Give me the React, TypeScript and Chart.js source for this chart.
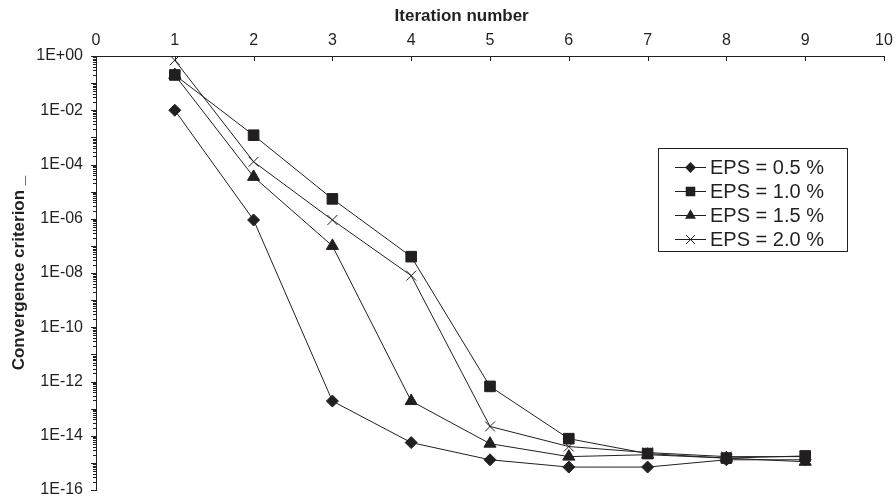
import React, { useEffect, useRef } from 'react';
import { Chart, registerables } from 'chart.js';

Chart.register(...registerables);

// ---- data ----
const iterations = [1, 2, 3, 4, 5, 6, 7, 8, 9];
const eps05 = [1e-2, 9e-7, 1.9e-13, 5.6e-15, 1.3e-15, 7e-16, 7e-16, 1.3e-15, 1.3e-15];
const eps10 = [0.2, 1.2e-3, 5.4e-6, 4e-8, 6.6e-13, 7.8e-15, 2.2e-15, 1.5e-15, 1.8e-15];
const eps15 = [0.2, 3.5e-5, 1e-7, 1.9e-13, 5.1e-15, 1.7e-15, 2e-15, 1.5e-15, 1.1e-15];
const eps20 = [0.7, 1.26e-4, 9e-7, 8e-9, 2.2e-14, 4e-15, 2.4e-15, 1.7e-15, 1.7e-15];
const seriesLabels = ['EPS = 0.5 %', 'EPS = 1.0 %', 'EPS = 1.5 %', 'EPS = 2.0 %'];
const xTickValues = [0, 1, 2, 3, 4, 5, 6, 7, 8, 9, 10];
const yLabelExponents = [0, -2, -4, -6, -8, -10, -12, -14, -16];
const xTitle = 'Iteration number';
const yTitle = 'Convergence criterion _';

const INK = '#231f20';
const FONT = "'Liberation Sans', Arial, sans-serif";

const styles = [
  { pointStyle: 'rectRot', radius: 6 },
  { pointStyle: 'rect', radius: 7.5 },
  { pointStyle: 'triangle', radius: 7 },
  { pointStyle: 'crossRot', radius: 7 },
];

function drawMarker(ctx: CanvasRenderingContext2D, style: string, x: number, y: number, r: number) {
  ctx.beginPath();
  if (style === 'rectRot') {
    ctx.moveTo(x, y - r); ctx.lineTo(x + r, y); ctx.lineTo(x, y + r); ctx.lineTo(x - r, y); ctx.closePath();
    ctx.fill();
  } else if (style === 'rect') {
    const s = r * Math.SQRT1_2;
    ctx.rect(x - s, y - s, 2 * s, 2 * s); ctx.fill();
  } else if (style === 'triangle') {
    const h = r * Math.sin(Math.PI / 3);
    ctx.moveTo(x - h, y + r / 2); ctx.lineTo(x, y - r); ctx.lineTo(x + h, y + r / 2); ctx.closePath();
    ctx.fill();
  } else {
    const s = r * Math.SQRT1_2;
    ctx.moveTo(x - s, y - s); ctx.lineTo(x + s, y + s);
    ctx.moveTo(x + s, y - s); ctx.lineTo(x - s, y + s);
    ctx.stroke();
  }
}

const decorPlugin = {
  id: 'decor',
  afterDraw(chart: any) {
    const ctx: CanvasRenderingContext2D = chart.ctx;
    const xs = chart.scales.x;
    const ys = chart.scales.y;
    const area = chart.chartArea;
    ctx.save();
    ctx.strokeStyle = INK;
    ctx.lineWidth = 1;
    ctx.beginPath();
    for (let e = 0; e >= -16; e--) {
      const p = Math.round(ys.getPixelForValue(Math.pow(10, e))) + 0.5;
      ctx.moveTo(area.left - 5, p); ctx.lineTo(area.left, p);
      if (e > -16) {
        for (let m = 2; m <= 9; m++) {
          const q = Math.round(ys.getPixelForValue(m * Math.pow(10, e - 1))) + 0.5;
          ctx.moveTo(area.left - 3, q); ctx.lineTo(area.left, q);
        }
      }
    }
    for (const v of xTickValues) {
      const p = Math.round(xs.getPixelForValue(v)) + 0.5;
      ctx.moveTo(p, area.top); ctx.lineTo(p, area.top + 5);
    }
    ctx.stroke();

    // legend
    const bx = 658.5, by = 148.5, bw = 189, bh = 103;
    ctx.fillStyle = '#ffffff';
    ctx.fillRect(bx, by, bw, bh);
    ctx.strokeStyle = INK;
    ctx.strokeRect(bx, by, bw, bh);
    const rowY = [167, 191, 215, 239];
    ctx.font = `20px ${FONT}`;
    ctx.textBaseline = 'middle';
    ctx.textAlign = 'left';
    seriesLabels.forEach((lab, i) => {
      const y = rowY[i];
      ctx.strokeStyle = INK; ctx.fillStyle = INK; ctx.lineWidth = 1;
      ctx.beginPath(); ctx.moveTo(675, y + 0.5); ctx.lineTo(706, y + 0.5); ctx.stroke();
      drawMarker(ctx, styles[i].pointStyle, 690.5, y + 0.5, styles[i].radius * 0.9);
      ctx.fillStyle = INK;
      ctx.fillText(lab, 710, y + 1);
    });
    ctx.restore();
  },
};

export default function App() {
  const ref = useRef<HTMLCanvasElement>(null);
  useEffect(() => {
    document.body.style.margin = '0';
    const series = [eps05, eps10, eps15, eps20];
    const chart = new Chart(ref.current!, {
      type: 'line',
      data: {
        datasets: series.map((vals, i) => ({
          label: seriesLabels[i],
          data: iterations.map((it, k) => ({ x: it, y: vals[k] })),
          borderColor: INK,
          borderWidth: 1,
          backgroundColor: INK,
          pointBackgroundColor: INK,
          pointBorderColor: INK,
          pointBorderWidth: 1,
          pointStyle: styles[i].pointStyle as any,
          pointRadius: styles[i].radius,
          tension: 0,
          fill: false,
        })),
      },
      options: {
        animation: false,
        responsive: false,
        maintainAspectRatio: false,
        layout: { padding: { left: 0, top: 0, right: 12, bottom: 11 } },
        plugins: { legend: { display: false }, tooltip: { enabled: false }, title: { display: false } },
        scales: {
          x: {
            type: 'linear',
            position: 'top',
            min: 0,
            max: 10,
            afterBuildTicks: (s: any) => { s.ticks = xTickValues.map((v) => ({ value: v })); },
            afterFit: (s: any) => { s.height = 56; s.paddingLeft = 0; s.paddingRight = 0; },
            grid: { display: false, drawTicks: false },
            border: { display: true, color: INK, width: 1 },
            ticks: { color: INK, font: { family: FONT, size: 16 }, padding: 6, maxRotation: 0, autoSkip: false },
            title: { display: true, text: xTitle + '            ', color: INK, font: { family: FONT, size: 17, weight: 'bold' }, padding: { top: 6, bottom: 0 } },
          },
          y: {
            type: 'logarithmic',
            min: 1e-16,
            max: 1,
            afterBuildTicks: (s: any) => { s.ticks = yLabelExponents.map((e) => ({ value: Math.pow(10, e) })); },
            afterFit: (s: any) => { s.width = 96; s.paddingTop = 0; s.paddingBottom = 0; },
            grid: { display: false, drawTicks: false },
            border: { display: true, color: INK, width: 1 },
            ticks: {
              color: INK,
              font: { family: FONT, size: 16 },
              padding: 13,
              autoSkip: false,
              callback: (v: any) => {
                const e = Math.round(Math.log10(Number(v)));
                const a = Math.abs(e);
                return '1E' + (e < 0 ? '-' : '+') + (a < 10 ? '0' + a : String(a));
              },
            },
            title: { display: true, text: yTitle, color: INK, font: { family: FONT, size: 17, weight: 'bold' }, padding: { top: 9, bottom: 0 } },
          },
        },
      },
      plugins: [decorPlugin],
    } as any);
    return () => chart.destroy();
  }, []);
  return (
    <div style={{ position: 'absolute', left: 0, top: 0, width: 896, height: 501 }}>
      <canvas ref={ref} width={896} height={501} style={{ display: 'block', width: 896, height: 501 }} />
    </div>
  );
}
